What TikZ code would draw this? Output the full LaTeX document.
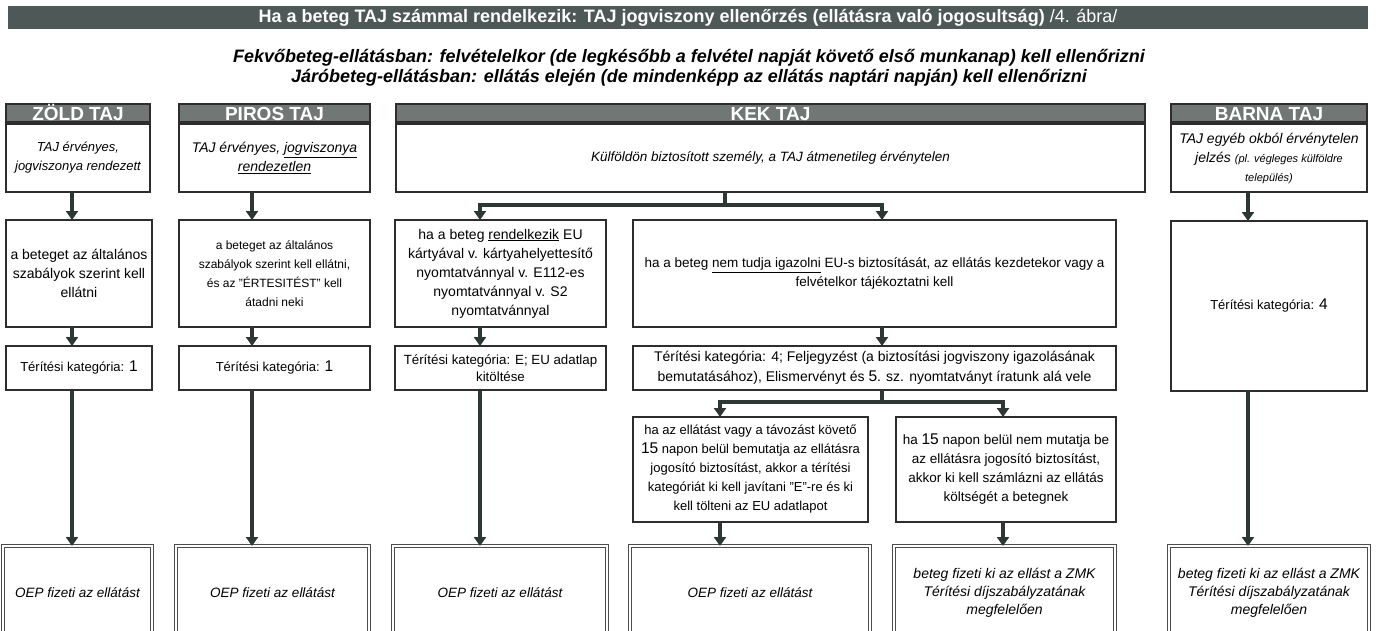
\documentclass[tikz,border=0pt]{standalone}
\usepackage{fontspec}
\setmainfont{Liberation Sans}
\usetikzlibrary{arrows.meta}
\definecolor{cimszin}{RGB}{78,88,86}
\definecolor{fejszin}{RGB}{112,119,117}
\definecolor{vonalszin}{RGB}{45,45,45}
\definecolor{nyilszin}{RGB}{45,56,53}
\newcommand{\nagy}[1]{{\fontsize{15.5}{19}\selectfont #1}}
\newcommand{\kicsi}[1]{{\fontsize{11}{19}\selectfont #1}}
\newcommand{\betu}[1]{\fontsize{#1}{19}\selectfont}

\begin{document}
\begin{tikzpicture}[x=1pt,y=-1pt,
  every node/.style={inner sep=0pt,outer sep=0pt,align=center},
  doboz/.style={draw=vonalszin,line width=1.8pt,fill=white},
  fej/.style={doboz,fill=fejszin,text=white,minimum height=18pt,text height=14pt,text depth=0pt,font=\fontsize{19}{19}\selectfont\bfseries},
  dolt/.style={font=\betu{13}\itshape},
  sima/.style={font=\betu{13.5}},
  veg/.style={draw=vonalszin!85,double=white,double distance=2.2pt,line width=1pt,minimum height=94pt,font=\fontsize{13.5}{18}\selectfont\itshape},
  vonal/.style={draw=nyilszin,line width=3.4pt},
  nyil/.style={vonal,-{Triangle[width=12pt,length=9pt]}}]
   \useasboundingbox[fill=white] (0,0) rectangle (1378,630);
   \clip (0,0) rectangle (1378,630);
   \node[fill=cimszin,minimum width=1360pt,minimum height=23pt,text=white,font=\fontsize{18}{18}\selectfont] (cim) at (688,17.5)
      {\textbf{Ha a beteg TAJ számmal rendelkezik: TAJ jogviszony ellenőrzés (ellátásra való jogosultság)} /4. ábra/};
   \node[font=\fontsize{18}{20}\selectfont\bfseries\itshape] (alcim) at (689,68)
      {Fekvőbeteg-ellátásban: felvételelkor (de legkésőbb a felvétel napját követő első munkanap) kell ellenőrizni\\
       Járóbeteg-ellátásban: ellátás elején (de mindenképp az ellátás naptári napján) kell ellenőrizni};

   \node[fej,minimum width=144pt] (zoldh) at (78,113) {ZÖLD TAJ};
   \node[doboz,dolt,minimum width=144pt,minimum height=68pt] (zold1) at (78,158) {TAJ érvényes,\\ jogviszonya rendezett};
   \node[fej,minimum width=191pt] (pirosh) at (274.5,113) {PIROS TAJ};
   \node[doboz,dolt,minimum width=191pt,minimum height=68pt,font=\betu{14}\itshape] (piros1) at (274.5,158) {TAJ érvényes, \underline{jogviszonya}\\ \underline{rendezetlen}};
   \node[fej,minimum width=749pt] (kekh) at (770.5,113) {KEK TAJ};
   \node[doboz,dolt,minimum width=749pt,minimum height=68pt,font=\betu{13.5}\itshape] (kek1) at (770.5,158) {Külföldön biztosított személy, a TAJ átmenetileg érvénytelen};
   \node[fej,minimum width=196pt] (barnah) at (1269,113) {BARNA TAJ};
   \node[doboz,dolt,minimum width=196pt,minimum height=68pt,font=\betu{14}\itshape] (barna1) at (1269,158) {TAJ egyéb okból érvénytelen\\ jelzés \kicsi{(pl. végleges külföldre}\\ \kicsi{település)}};

   \node[doboz,sima,minimum width=146pt,minimum height=107pt,font=\betu{14}] (zold2) at (79,273.5) {a beteget az általános\\ szabályok szerint kell\\ ellátni};
   \node[doboz,sima,minimum width=191pt,minimum height=107pt,font=\betu{12}] (piros2) at (274.5,273.5) {a beteget az általános\\ szabályok szerint kell ellátni,\\ és az "ÉRTESITÉST" kell\\ átadni neki};
   \node[doboz,sima,minimum width=211pt,minimum height=107pt,font=\betu{14}] (kekbal2) at (500.5,273.5) {ha a beteg \underline{rendelkezik} EU\\ kártyával v. kártyahelyettesítő\\ nyomtatvánnyal v. E112-es\\ nyomtatvánnyal v. S2\\ nyomtatvánnyal};
   \node[doboz,sima,minimum width=483pt,minimum height=107pt] (kekjobb2) at (874.5,273.5) {ha a beteg \underline{nem tudja igazolni} EU-s biztosítását, az ellátás kezdetekor vagy a\\ felvételkor tájékoztatni kell};
   \node[doboz,sima,minimum width=196pt,minimum height=170pt,font=\betu{13}] (barna2) at (1269,306) {Térítési kategória: \nagy{4}};

   \node[doboz,sima,minimum width=146pt,minimum height=44pt,font=\betu{13}] (zold3) at (79,368) {Térítési kategória: \nagy{1}};
   \node[doboz,sima,minimum width=191pt,minimum height=44pt,font=\betu{13}] (piros3) at (274.5,368) {Térítési kategória: \nagy{1}};
   \node[doboz,sima,minimum width=211pt,minimum height=44pt,font=\fontsize{13.3}{17}\selectfont] (kekbal3) at (500.5,368) {Térítési kategória: E; EU adatlap\\ kitöltése};
   \node[doboz,sima,minimum width=483pt,minimum height=44pt,font=\fontsize{14}{20}\selectfont] (kekjobb3) at (874.5,368) {Térítési kategória: 4; Feljegyzést (a biztosítási jogviszony igazolásának\\ bemutatásához), Elismervényt és \nagy{5}. sz. nyomtatványt íratunk alá vele};

   \node[doboz,sima,minimum width=235pt,minimum height=105pt,font=\betu{13}] (bemutat) at (750.5,469.5) {ha az ellátást vagy a távozást követő\\ \nagy{15} napon belül bemutatja az ellátásra\\ jogosító biztosítást, akkor a térítési\\ kategóriát ki kell javítani "E"-re és ki\\ kell tölteni az EU adatlapot};
   \node[doboz,sima,minimum width=220pt,minimum height=105pt] (nembemutat) at (1006,469.5) {ha \nagy{15} napon belül nem mutatja be\\ az ellátásra jogosító biztosítást,\\ akkor ki kell számlázni az ellátás\\ költségét a betegnek};

   \node[veg,minimum width=149pt] (veg1) at (77.5,593) {OEP fizeti az ellátást};
   \node[veg,minimum width=193pt] (veg2) at (272.5,593) {OEP fizeti az ellátást};
   \node[veg,minimum width=214pt] (veg3) at (500,593) {OEP fizeti az ellátást};
   \node[veg,minimum width=240pt] (veg4) at (750,593) {OEP fizeti az ellátást};
   \node[veg,minimum width=221pt,font=\fontsize{14}{18}\selectfont\itshape] (veg5) at (1004.5,593) {beteg fizeti ki az ellást a ZMK\\ Térítési díjszabályzatának\\ megfelelően};
   \node[veg,minimum width=200pt,font=\fontsize{14}{18}\selectfont\itshape] (veg6) at (1269,593) {beteg fizeti ki az ellást a ZMK\\ Térítési díjszabályzatának\\ megfelelően};

   \coordinate (c1) at (72,0);
   \coordinate (c2) at (252,0);
   \coordinate (c3) at (480,0);
   \coordinate (c4) at (882,0);
   \coordinate (cA) at (720,0);
   \coordinate (cB) at (1003,0);
   \coordinate (c5) at (1248,0);
   \coordinate (kekel) at (725,205);
   \coordinate (jobbel) at (882,402);

   \draw[nyil] (zold1.south -| c1) -- (zold2.north -| c1);
   \draw[nyil] (zold2.south -| c1) -- (zold3.north -| c1);
   \draw[nyil] (zold3.south -| c1) -- (veg1.north -| c1);
   \draw[nyil] (piros1.south -| c2) -- (piros2.north -| c2);
   \draw[nyil] (piros2.south -| c2) -- (piros3.north -| c2);
   \draw[nyil] (piros3.south -| c2) -- (veg2.north -| c2);
   \draw[vonal] (kek1.south -| kekel) -- (kekel);
   \draw[nyil] (kekel) -| (kekbal2.north -| c3);
   \draw[nyil] (kekel) -| (kekjobb2.north -| c4);
   \draw[nyil] (kekbal2.south -| c3) -- (kekbal3.north -| c3);
   \draw[nyil] (kekbal3.south -| c3) -- (veg3.north -| c3);
   \draw[nyil] (kekjobb2.south -| c4) -- (kekjobb3.north -| c4);
   \draw[vonal] (kekjobb3.south -| jobbel) -- (jobbel);
   \draw[nyil] (jobbel) -| (bemutat.north -| cA);
   \draw[nyil] (jobbel) -| (nembemutat.north -| cB);
   \draw[nyil] (bemutat.south -| cA) -- (veg4.north -| cA);
   \draw[nyil] (nembemutat.south -| cB) -- (veg5.north -| cB);
   \draw[nyil] (barna1.south -| c5) -- (barna2.north -| c5);
   \draw[nyil] (barna2.south -| c5) -- (veg6.north -| c5);
\end{tikzpicture}
\end{document}
